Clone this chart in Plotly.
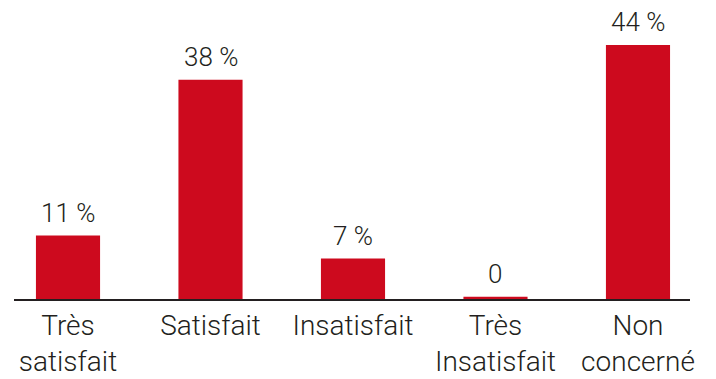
import plotly.graph_objects as go

# Survey results: satisfaction breakdown (percent)
categories = ["Très<br>satisfait", "Satisfait", "Insatisfait", "Très<br>Insatisfait", "Non<br>concerné"]
values = [11, 38, 7, 0.4, 44]
value_labels = ["11 %", "38 %", "7 %", "0", "44 %"]

BAR_RED = "#cd0a1e"
INK = "#231f20"
FONT = "Roboto, Arial, sans-serif"

fig = go.Figure(
    go.Bar(
        x=categories,
        y=values,
        marker=dict(color=BAR_RED, line=dict(width=0)),
        hoverinfo="skip",
    )
)

# value labels above each bar
for cat, val, lab in zip(categories, values, value_labels):
    fig.add_annotation(
        x=cat, y=val, text=lab, showarrow=False,
        yanchor="bottom", yshift=6,
        font=dict(family=FONT, size=26, color=INK, weight=300),
    )

fig.update_layout(
    width=716,
    height=379,
    margin=dict(l=14, r=26, t=0, b=80),
    paper_bgcolor="white",
    plot_bgcolor="white",
    bargap=0.55,
    showlegend=False,
    font=dict(family=FONT, color=INK),
)
fig.update_xaxes(
    type="category",
    range=[-0.379, 4.365],
    showline=True, linecolor=INK, linewidth=2,
    ticks="", showgrid=False, zeroline=False,
    tickfont=dict(family=FONT, size=28, color=INK, weight=300),
)
fig.update_yaxes(
    range=[0, 51.8],
    visible=False, showgrid=False, zeroline=False,
)

fig.write_html("out.html")
